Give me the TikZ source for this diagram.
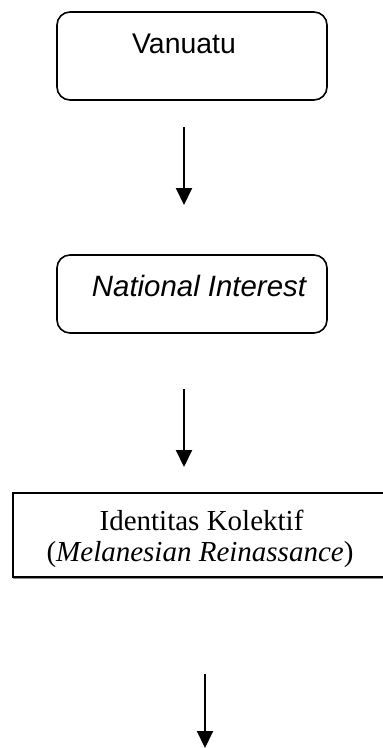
\documentclass[tikz,border=0pt]{standalone}
\usepackage{fontspec}
\setmainfont{Liberation Serif}
\newfontfamily\arialfont{Liberation Sans}
\usetikzlibrary{arrows.meta}
\begin{document}
\begin{tikzpicture}[x=1pt,y=-1pt,
  rbox/.style={draw=black, line width=1.6pt, rounded corners=13pt, inner sep=0pt, fill=white},
  sbox/.style={draw=black, line width=2pt, inner sep=0pt, fill=white},
  lbl/.style={inner sep=0pt, anchor=base},
  arr/.style={line width=2pt, -{Triangle[length=17pt,width=16pt]}}]
\path[use as bounding box, clip] (0,0) rectangle (383,748);
\fill[white] (0,0) rectangle (383,748);
% boxes
\node[rbox, minimum width=270pt, minimum height=88pt] (b1) at (192,56) {};
\node[rbox, minimum width=270pt, minimum height=78pt] (b2) at (192,294) {};
\draw[black!45, line width=1pt] (13,578) -- (390,578);
\node[sbox, minimum width=390pt, minimum height=84pt, anchor=north west] (b3) at (12,492) {};
% texts
\node[lbl, font=\arialfont\fontsize{28.4pt}{32pt}\selectfont] (t1) at (184,53) {Vanuatu};
\node[lbl, font=\arialfont\itshape\fontsize{29.4pt}{33pt}\selectfont] (t2) at (199,296) {National Interest};
\node[lbl, font=\fontsize{29pt}{31pt}\selectfont] (t3a) at (201.5,530) {Identitas Kolektif};
\node[lbl, font=\fontsize{29pt}{31pt}\selectfont] (t3b) at (200,561) {(\textit{Melanesian Reinassance})};
% arrows
\coordinate (a1s) at (184,127);
\coordinate (a1e) at (184,205);
\coordinate (a2s) at (184,389);
\coordinate (a2e) at (184,467);
\coordinate (a3s) at (205,674);
\coordinate (a3e) at (205,748);
\draw[arr] (a1s) -- (a1e);
\draw[arr] (a2s) -- (a2e);
\draw[arr] (a3s) -- (a3e);
\end{tikzpicture}
\end{document}
